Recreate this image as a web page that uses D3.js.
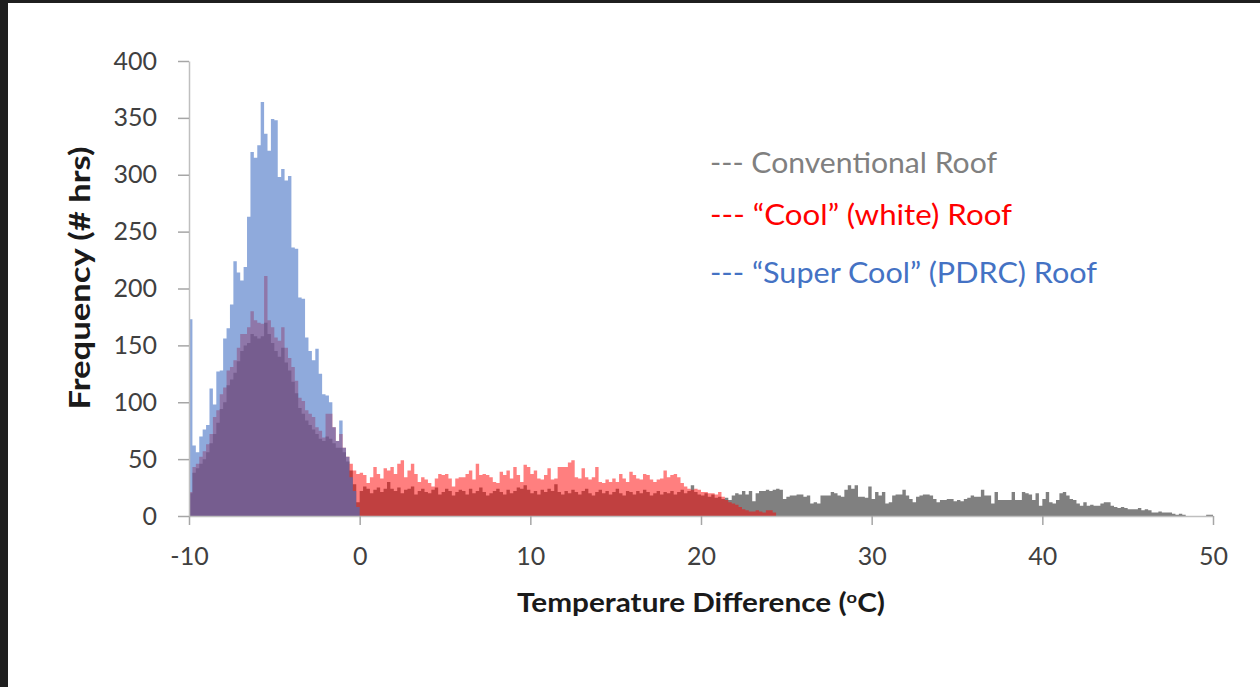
<!DOCTYPE html>
<html>
<head>
    <meta charset="UTF-8">
    <title>Roof temperature difference histogram</title>
    <style>
        body { margin: 0; background: #1f1f1f; }
        svg { display: block; }
        text { font-family: Lato, "Open Sans", sans-serif; }
    </style>
</head>
<body>
    <div id="chart"></div>
    <script src="https://cdn.jsdelivr.net/npm/d3@7"></script>
    <script>

    // histogram bins are 0.2 degC wide, every series starts at -10
    const binWidth = 0.2;
    const binStart = -10;

    const conventional = [
        20, 38, 42, 46, 50, 56, 64, 72, 82, 94, 100, 115, 120, 126, 136, 145, 150, 152, 160, 158,
        156, 158, 170, 160, 152, 145, 140, 148, 135, 128, 118, 108, 95, 90, 84, 80, 76, 72, 68, 66,
        70, 68, 64, 60, 60, 56, 48, 40, 28, 12,
        22, 26, 24, 20, 23, 25, 21, 24, 30, 24, 22, 25, 20, 23, 24, 26, 19, 22, 24, 21,
        20, 23, 25, 19, 21, 24, 22, 18, 21, 23, 22, 19, 24, 20, 22, 25, 21, 18, 20, 22,
        24, 21, 19, 23, 20, 22, 25, 24, 27, 23, 20, 22, 19, 23, 21, 24, 22, 28, 21, 19,
        22, 20, 23, 21, 19, 22, 24, 20, 18, 21, 23, 20, 22, 19, 21, 24, 20, 18, 22, 21,
        19, 22, 20, 23, 21, 18, 20, 22, 19, 21, 20, 22, 19, 21, 23, 20, 22, 27, 21, 19,
        18, 20, 17, 19, 16, 17, 15, 16, 14, 18,
        20, 19, 22, 19, 22, 13, 20, 22, 22, 23, 22, 23, 24,
        23, 15, 17, 18, 18, 19, 19, 17, 18, 11, 12, 11, 18, 18, 18, 21, 20, 18, 17, 23,
        27, 24, 27, 17, 17, 16, 26, 15, 21, 18, 21, 11, 12, 18, 19, 19, 23, 18, 15, 12,
        17, 18, 19, 19, 18, 15, 12, 14, 14, 15, 15, 13, 14, 13, 15, 16, 18, 17, 17, 23,
        18, 18, 11, 21, 14, 14, 14, 14, 21, 14, 14, 21, 20, 19, 14, 20, 9, 15, 21, 12,
        11, 14, 20, 21, 18, 15, 14, 11, 9, 12, 9, 10, 9, 9, 11, 12, 12, 9, 8, 7,
        8, 7, 6, 6, 6, 7, 5, 6, 5, 3, 3, 4, 3, 3, 3, 2, 1, 2, 1, 0,
        0, 0, 0, 0, 0, 1, 1
    ];

    const cool = [
        21, 43, 46, 52, 57, 63, 72, 87, 93, 107, 113, 128, 131, 137, 148, 160, 160, 166, 180, 172,
        170, 169, 211, 172, 166, 157, 154, 166, 148, 139, 131, 119, 104, 101, 93, 90, 87, 78, 75, 69,
        90, 90, 78, 66, 72, 60, 52, 46, 40, 37,
        38,
        36, 29, 34, 43, 37, 33, 42, 40, 43, 37, 46, 49, 34, 40, 46, 37, 30, 34, 32, 29,
        26, 33, 37, 36, 37, 33, 26, 33, 34, 34, 37, 40, 32, 46, 36, 37, 36, 34, 30, 29,
        39, 36, 40, 33, 43, 36, 30, 45, 43, 37, 40, 33, 32, 36, 42, 32, 33, 43, 43, 43,
        47, 49, 34, 33, 42, 34, 32, 34, 43, 30, 29, 32, 30, 33, 30, 37, 33, 30, 39, 36,
        33, 32, 37, 36, 32, 30, 32, 33, 40, 34, 36, 37, 34, 29, 26, 24, 23, 24, 23, 21,
        21, 20, 20, 19, 21, 17, 14, 12, 11, 10, 8, 6, 5, 4, 4, 5, 4, 3, 5, 5,
        3
    ];

    const superCool = [
        173, 62, 56, 70, 76, 80, 112, 98, 127, 128, 156, 165, 186, 224, 214, 207, 219, 263, 320, 315,
        326, 364, 336, 321, 349, 348, 298, 305, 295, 299, 236, 235, 192, 191, 157, 145, 137, 147, 125, 107,
        106, 100, 78, 66, 84, 60, 52, 34, 22, 8
    ];

    const xTicks = [-10, 0, 10, 20, 30, 40, 50];
    const yTicks = [0, 50, 100, 150, 200, 250, 300, 350, 400];

    const legendItems = [
        {label: "--- Conventional Roof", color: "#808080"},
        {label: "--- \u201cCool\u201d (white) Roof", color: "#ff0000"},
        {label: "--- \u201cSuper Cool\u201d (PDRC) Roof", color: "#4472c4"}
    ];

    const width = 1260, height = 687;

    const svg = d3.select("#chart")
        .append("svg")
        .attr("width", width)
        .attr("height", height);

    svg.append("rect")
        .attr("width", width)
        .attr("height", height)
        .style("fill", "#1f1f1f");
    svg.append("rect")
        .attr("x", 8)
        .attr("y", 3)
        .attr("width", width - 8)
        .attr("height", height - 3)
        .style("fill", "#ffffff");

    const x = d3.scaleLinear().domain([-10, 50]).range([189, 1213]);
    const y = d3.scaleLinear().domain([0, 400]).range([516, 61]);

    // turn a list of counts into step points (one extra point closes the last bin)
    function toBins(values) {
        const pts = values.map((v, i) => ({x0: binStart + i * binWidth, v: v}));
        pts.push({x0: binStart + values.length * binWidth, v: values[values.length - 1]});
        return pts;
    }

    const area = d3.area()
        .curve(d3.curveStepAfter)
        .x(d => x(d.x0))
        .y0(y(0))
        .y1(d => y(d.v));

    svg.append("path")
        .datum(toBins(conventional))
        .attr("d", area)
        .style("fill", "#808080");

    svg.append("path")
        .datum(toBins(cool))
        .attr("d", area)
        .style("fill", "#ff0000")
        .style("fill-opacity", 0.5);

    svg.append("path")
        .datum(toBins(superCool))
        .attr("d", area)
        .style("fill", "#4472c4")
        .style("fill-opacity", 0.6);

    // axes (plain hyphen for negative ticks, like the original)
    const xAxis = svg.append("g")
        .attr("transform", `translate(0, ${y(0)})`)
        .call(d3.axisBottom(x).tickValues(xTicks).tickFormat(d => String(d))
            .tickSize(9).tickSizeOuter(0).tickPadding(22));

    const yAxis = svg.append("g")
        .attr("transform", `translate(${x(-10)}, 0)`)
        .call(d3.axisLeft(y).tickValues(yTicks).tickSize(11).tickSizeOuter(0).tickPadding(21));

    [xAxis, yAxis].forEach(g => {
        g.select(".domain").style("stroke", "#bfbfbf").style("stroke-width", 1.5);
        g.selectAll(".tick line").style("stroke", "#a6a6a6").style("stroke-width", 1.5);
        g.selectAll(".tick text")
            .style("font-family", "Lato, sans-serif")
            .style("font-size", "25px")
            .style("fill", "#404040");
    });

    // axis titles
    svg.append("text")
        .attr("transform", "translate(90, 278) rotate(-90)")
        .attr("text-anchor", "middle")
        .attr("textLength", 263)
        .attr("lengthAdjust", "spacingAndGlyphs")
        .style("font-size", "29px")
        .style("font-weight", "bold")
        .style("fill", "#1a1a1a")
        .text("Frequency (# hrs)");

    const xTitle = svg.append("text")
        .attr("x", 701)
        .attr("y", 612)
        .attr("text-anchor", "middle")
        .attr("textLength", 368)
        .attr("lengthAdjust", "spacingAndGlyphs")
        .style("font-size", "26px")
        .style("font-weight", "bold")
        .style("fill", "#1a1a1a");
    xTitle.append("tspan").text("Temperature Difference (");
    xTitle.append("tspan")
        .attr("dy", -9)
        .style("font-size", "16px")
        .text("o");
    xTitle.append("tspan")
        .attr("dy", 9)
        .text("C)");

    // legend
    const legendLengths = [287, 302, 387];
    const legendBaselines = [173, 225, 283];
    svg.append("g")
        .selectAll("text")
        .data(legendItems)
        .join("text")
        .attr("x", 710)
        .attr("y", (d, i) => legendBaselines[i])
        .attr("textLength", (d, i) => legendLengths[i])
        .attr("lengthAdjust", "spacingAndGlyphs")
        .style("font-size", "28px")
        .style("fill", d => d.color)
        .text(d => d.label);

    </script>
</body>
</html>
